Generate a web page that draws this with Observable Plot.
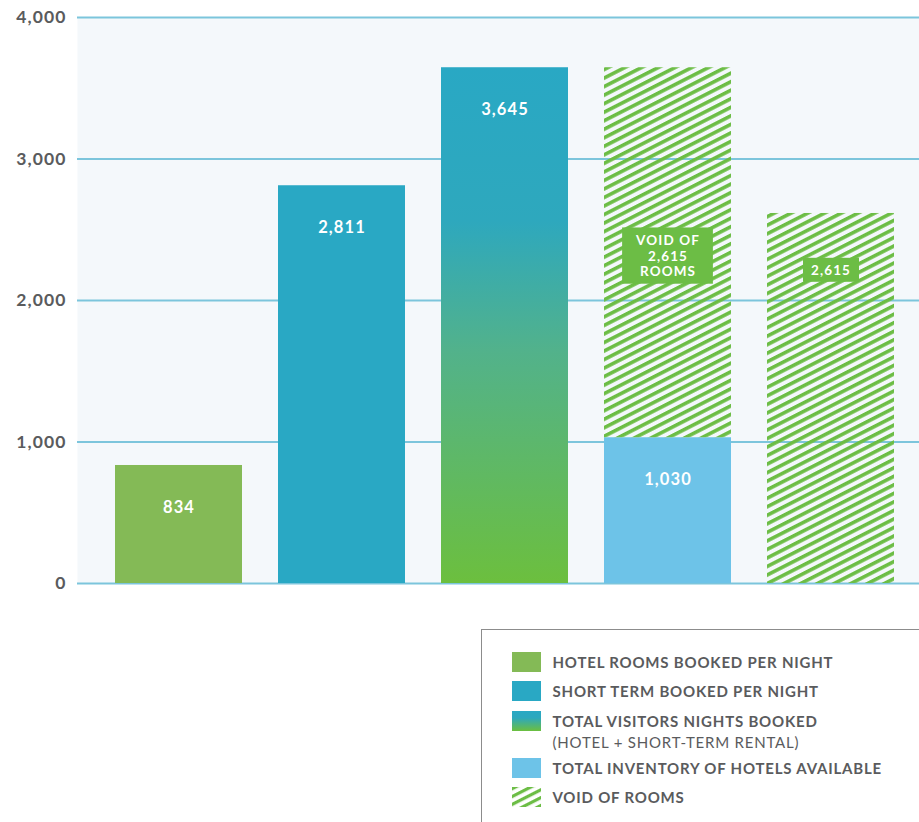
<!DOCTYPE html>
<html><head><meta charset="utf-8">
<script src="https://cdn.jsdelivr.net/npm/d3@7"></script>
<script src="https://cdn.jsdelivr.net/npm/@observablehq/plot@0.6"></script>
<style>
body{margin:0;background:#fff;font-family:Lato,sans-serif;}
#wrap{position:relative;width:919px;height:822px;overflow:hidden;}
#legend{position:absolute;left:481px;top:629px;width:480px;height:240px;border:1.5px solid #8c8c8c;box-sizing:border-box;background:#fff;}
.row{position:absolute;left:29.5px;display:flex;align-items:flex-start;}
.sw{width:29px;height:20px;margin-right:12px;flex:none;display:block;}
.lab{font-weight:700;font-size:15px;color:#5a5b5d;letter-spacing:0.8px;line-height:20px;white-space:nowrap;}
.sub{font-weight:400;line-height:22px;}
</style></head>
<body><div id="wrap"><div id="chart"></div><div id="legend"></div></div>
<script>
// ---- data ----
const categories = ["Hotel rooms", "Short term", "Total visitors", "Hotel inventory", "Void"];
const yTicks = [0, 1000, 2000, 3000, 4000];

const segCategory = ["Hotel rooms", "Short term", "Total visitors", "Hotel inventory", "Hotel inventory", "Void"];
const segStart    = [0, 0, 0, 0, 1030, 0];
const segEnd      = [834, 2811, 3645, 1030, 3645, 2615];
const segKind     = ["hotel", "short", "total", "inventory", "void", "void"];

const valueCategory = ["Hotel rooms", "Short term", "Total visitors", "Hotel inventory"];
const valueNumbers  = [834, 2811, 3645, 1030];

const voidText = ["VOID OF\n2,615\nROOMS", "2,615"];

const legendKinds  = ["hotel", "short", "total", "inventory", "void"];
const legendLabels = ["HOTEL ROOMS BOOKED PER NIGHT", "SHORT TERM BOOKED PER NIGHT", "TOTAL VISITORS NIGHTS BOOKED", "TOTAL INVENTORY OF HOTELS AVAILABLE", "VOID OF ROOMS"];
const legendSub    = ["", "", "(HOTEL + SHORT-TERM RENTAL)", "", ""];

// ---- styles ----
const fills = {hotel: "#84ba56", short: "#29a8c4", total: "url(#gradTotal)", inventory: "#6dc3e8", void: "url(#hatch)"};
const GREEN = "#6cbd45";

const segments = segCategory.map((c, i) => ({cat: c, start: segStart[i], end: segEnd[i], kind: segKind[i]}));
const values = valueCategory.map((c, i) => ({cat: c, v: valueNumbers[i]}));
const fmt = d3.format(",");

const voidA = [{cat: "Hotel inventory", y: (1030 + 3645) / 2, text: voidText[0]}];
const voidB = [{cat: "Void", y: 2615, text: voidText[1]}];

const barMarks = Object.keys(fills).map(k =>
  Plot.barY(segments.filter(d => d.kind === k), {x: "cat", y1: "start", y2: "end", fill: fills[k]})
);

const plot = Plot.plot({
  width: 919, height: 600,
  marginLeft: 77, marginRight: 0, marginTop: 17, marginBottom: 17,
  style: {fontFamily: "Lato, sans-serif", fontSize: "17.5px", fontWeight: 700, color: "#5a5b5d", background: "transparent", letterSpacing: "1.1px"},
  x: {domain: categories, range: [95.75, 913.25], paddingInner: 0.2232, paddingOuter: 0.1116, axis: null},
  y: {domain: [0, 4000], ticks: yTicks, tickFormat: fmt, tickSize: 0, tickPadding: 11, label: null},
  marks: [
    Plot.frame({fill: "#f4f8fb", stroke: null}),
    Plot.ruleY(yTicks, {stroke: "#7cc5dc", strokeWidth: 2}),
    ...barMarks,
    Plot.text(values, {x: "cat", y: "v", text: d => fmt(d.v), dy: 42, fill: "white", fontSize: 16.5, fontWeight: 700}),
    Plot.text(voidA, {x: "cat", y: "y", text: "text", dy: 3, fill: "white", fontSize: 13.5, fontWeight: 700, lineHeight: 1.12}),
    Plot.text(voidB, {x: "cat", y: "y", text: "text", dy: 57, fill: "white", fontSize: 13.5, fontWeight: 700})
  ]
});

const defsHTML = `
  <linearGradient id="gradTotal" x1="0" y1="0" x2="0" y2="1">
    <stop offset="0" stop-color="#29a8c4"/>
    <stop offset="0.3" stop-color="#2ea8bd"/>
    <stop offset="0.55" stop-color="#52b28b"/>
    <stop offset="1" stop-color="#6cbf3e"/>
  </linearGradient>
  <pattern id="hatch" patternUnits="userSpaceOnUse" width="12" height="7.6" patternTransform="rotate(-27)">
    <rect x="0" y="0" width="12" height="3.6" fill="${GREEN}"/>
  </pattern>`;
d3.select(plot).insert("defs", ":first-child").html(defsHTML);
document.getElementById("chart").appendChild(plot);

// green boxes behind the void labels
d3.select(plot).selectAll('g[font-size="13.5"] text').each(function () {
  const b = this.getBBox();
  const multi = this.querySelectorAll("tspan").length > 1;
  const padX = multi ? 13 : 8, padY = multi ? 5 : 4;
  const r = document.createElementNS("http://www.w3.org/2000/svg", "rect");
  r.setAttribute("x", b.x - padX);
  r.setAttribute("y", b.y - padY);
  r.setAttribute("width", b.width + 2 * padX);
  r.setAttribute("height", b.height + 2 * padY);
  r.setAttribute("fill", GREEN);
  const t = this.getAttribute("transform");
  if (t) r.setAttribute("transform", t);
  this.parentNode.insertBefore(r, this);
});

// legend
const legendBox = document.getElementById("legend");
let rowTop = 21.5;
legendKinds.forEach((k, i) => {
  const row = document.createElement("div");
  row.className = "row";
  row.style.top = rowTop + "px";
  const sw = `<svg class="sw" width="29" height="20" viewBox="0 0 29 20">
    <defs>
      <linearGradient id="lg${i}" x1="0" y1="0" x2="0" y2="1"><stop offset="0" stop-color="#29a8c4"/><stop offset="0.35" stop-color="#2ea8bd"/><stop offset="1" stop-color="#6cbf3e"/></linearGradient>
      <pattern id="lh${i}" patternUnits="userSpaceOnUse" width="12" height="7" patternTransform="rotate(-27)"><rect width="12" height="3.2" fill="${GREEN}"/></pattern>
    </defs>
    <rect width="29" height="20" fill="${k === "total" ? `url(#lg${i})` : k === "void" ? `url(#lh${i})` : fills[k]}"/></svg>`;
  row.innerHTML = sw + `<div class="lab">${legendLabels[i]}${legendSub[i] ? `<div class="sub">${legendSub[i]}</div>` : ""}</div>`;
  legendBox.appendChild(row);
  rowTop += legendSub[i] ? 47 : 29.5;
});
</script>
</body></html>
